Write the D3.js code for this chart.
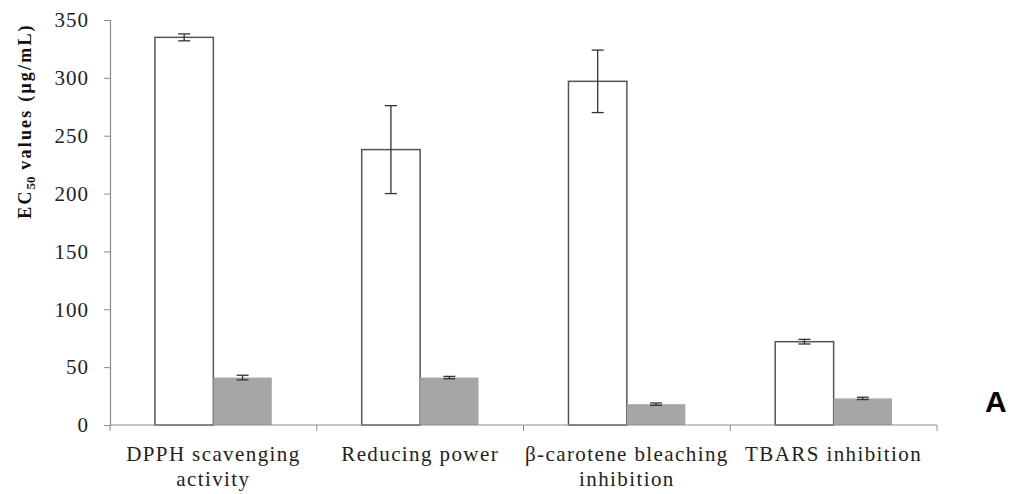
<!DOCTYPE html>
<html>
<head>
<meta charset="utf-8">
<script src="https://cdn.jsdelivr.net/npm/d3@7"></script>
<style>
  body { margin: 0; background: #fff; }
  svg { display: block; font-family: "Liberation Serif", "Times New Roman", serif; }
</style>
</head>
<body>
<svg id="chart"></svg>
<script>
// EC50 bar chart with error bars

const categories = [
  ['DPPH scavenging', 'activity'],
  ['Reducing power'],
  ['\u03b2-carotene bleaching', 'inhibition'],
  ['TBARS inhibition']
];
const seriesA = [335, 238, 297, 72];
const errorsA = [3, 38, 27, 2];
const seriesB = [41, 41, 18, 23];
const errorsB = [2, 1, 1, 1];
const yTicks = [0, 50, 100, 150, 200, 250, 300, 350];

const width = 1012;
const height = 494;
const margin = { top: 20, right: 75, bottom: 69, left: 110 };
const chartWidth = width - margin.left - margin.right;
const chartHeight = height - margin.top - margin.bottom;
const serif = '"Liberation Serif", "Times New Roman", serif';

const svg = d3.select('#chart')
  .attr('width', width)
  .attr('height', height);

const g = svg.append('g')
  .attr('transform', `translate(${margin.left},${margin.top})`);

const keys = categories.map((d, i) => i);

const xScale = d3.scaleBand()
  .domain(keys)
  .range([0, chartWidth])
  .padding(0);

const inner = d3.scaleBand()
  .domain(['a', 'b'])
  .range([0, xScale.bandwidth()])
  .paddingOuter(0.77)
  .paddingInner(0);

const yScale = d3.scaleLinear()
  .domain([0, 350])
  .range([chartHeight, 0]);

// Y axis
const yAxis = g.append('g')
  .attr('font-family', serif)
  .call(d3.axisLeft(yScale).tickValues(yTicks).tickSize(6).tickPadding(15).tickFormat(d3.format('d')));
yAxis.select('.domain').attr('stroke', '#8c8c8c').attr('stroke-width', 1.2);
yAxis.selectAll('.tick line').attr('stroke', '#8c8c8c');
yAxis.selectAll('text')
  .style('font-family', serif)
  .style('font-size', '21px')
  .style('letter-spacing', '1px')
  .style('fill', '#222');

// Bars
const groups = g.selectAll('.cat')
  .data(keys)
  .enter()
  .append('g')
  .attr('class', 'cat')
  .attr('transform', d => `translate(${xScale(d)},0)`);

groups.append('rect')
  .attr('x', inner('a'))
  .attr('y', d => yScale(seriesA[d]))
  .attr('width', inner.bandwidth())
  .attr('height', d => chartHeight - yScale(seriesA[d]))
  .style('fill', '#fff')
  .style('stroke', '#555')
  .style('stroke-width', 1.5);

groups.append('rect')
  .attr('x', inner('b'))
  .attr('y', d => yScale(seriesB[d]))
  .attr('width', inner.bandwidth())
  .attr('height', d => chartHeight - yScale(seriesB[d]))
  .style('fill', '#a6a6a6');

// Error bars
function errorBars(key, vals, errs) {
  const cx = inner(key) + inner.bandwidth() / 2;
  const eb = groups.append('g').style('stroke', '#333').style('stroke-width', 1.3);
  eb.append('line')
    .attr('x1', cx).attr('x2', cx)
    .attr('y1', d => yScale(vals[d] + errs[d]))
    .attr('y2', d => yScale(vals[d] - errs[d]));
  eb.append('line')
    .attr('x1', cx - 6).attr('x2', cx + 6)
    .attr('y1', d => yScale(vals[d] + errs[d]))
    .attr('y2', d => yScale(vals[d] + errs[d]));
  eb.append('line')
    .attr('x1', cx - 6).attr('x2', cx + 6)
    .attr('y1', d => yScale(vals[d] - errs[d]))
    .attr('y2', d => yScale(vals[d] - errs[d]));
}
errorBars('a', seriesA, errorsA);
errorBars('b', seriesB, errorsB);

// X axis
const xAxis = g.append('g')
  .attr('transform', `translate(0,${chartHeight})`);
xAxis.append('line')
  .attr('x1', 0).attr('x2', chartWidth)
  .attr('y1', 0).attr('y2', 0)
  .attr('stroke', '#8c8c8c').attr('stroke-width', 1.2);
xAxis.selectAll('.xtick')
  .data(d3.range(categories.length + 1))
  .enter()
  .append('line')
  .attr('x1', d => d * xScale.bandwidth())
  .attr('x2', d => d * xScale.bandwidth())
  .attr('y1', 0).attr('y2', 6)
  .attr('stroke', '#8c8c8c');

const labels = xAxis.selectAll('.xlabel')
  .data(keys)
  .enter()
  .append('text')
  .attr('x', d => xScale(d) + xScale.bandwidth() / 2)
  .attr('y', 36)
  .attr('text-anchor', 'middle')
  .style('font-family', serif)
  .style('font-size', '21px')
  .style('letter-spacing', '1.4px')
  .style('fill', '#222');
labels.selectAll('tspan')
  .data(d => categories[d])
  .enter()
  .append('tspan')
  .attr('x', function() { return d3.select(this.parentNode).attr('x'); })
  .attr('dy', (d, i) => i === 0 ? 0 : 25)
  .text(d => d);

// Y axis title
const title = svg.append('text')
  .attr('transform', 'translate(31,121) rotate(-90)')
  .attr('text-anchor', 'middle')
  .style('font-family', serif)
  .style('font-size', '18px')
  .style('letter-spacing', '2.2px')
  .style('font-weight', 'bold')
  .style('fill', '#111');
title.append('tspan').text('EC');
title.append('tspan').attr('dy', 4).style('font-size', '13px').style('letter-spacing', '0px').text('50');
title.append('tspan').attr('dy', -4).text(' values (\u03bcg/mL)');

// Panel letter
svg.append('text')
  .attr('x', 985)
  .attr('y', 412)
  .style('font-family', '"Liberation Sans", Arial, sans-serif')
  .style('font-size', '30px')
  .style('font-weight', 'bold')
  .style('fill', '#000')
  .text('A');
</script>
</body>
</html>
